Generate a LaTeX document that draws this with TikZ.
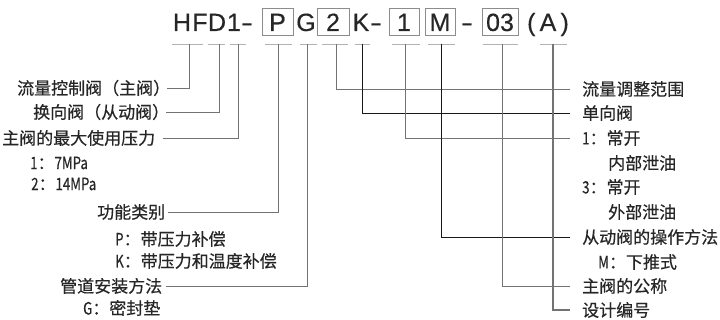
\documentclass[tikz,border=0pt]{standalone}
\usepackage{fontspec}
\setmainfont{Liberation Sans}[FakeBold=0.4]
\newfontfamily\cjk{Noto Sans CJK SC}[FakeBold=0.5]
\newcommand\lat[1]{\scalebox{0.78}[1]{#1}}
\begin{document}
\begin{tikzpicture}[x=1pt,y=-1pt,
  lbl/.style={inner sep=0pt, anchor=west, font=\cjk\fontsize{17}{17}\selectfont, text=black!85},
  ttl/.style={inner sep=0pt, anchor=base, font=\fontsize{25}{25}\selectfont, text=black!85},
  bx/.style={draw=black!45, line width=0.8pt, inner sep=0pt, minimum height=27pt,
     text height=18pt, text depth=0pt, anchor=center, font=\fontsize{25}{25}\selectfont, text=black!85},
  ul/.style={draw=black!30, line width=0.9pt},
  ln/.style={draw=black!55, line width=0.8pt},
  lnd/.style={draw=black!90, line width=0.8pt}]
\useasboundingbox (0,0) rectangle (720,320);
% title
\node[ttl] (tH) at (182,31) {H};
\node[ttl] (tF) at (200,31) {F};
\node[ttl] (tD) at (217,31) {D};
\node[ttl] (t1) at (234,31) {1};
\node[ttl] (td1) at (247,31) {\scalebox{1.4}[1]{-}};
\node[bx, minimum width=31pt] (tP) at (277.5,22) {P};
\node[ttl] (tG) at (306,31) {G};
\node[bx, minimum width=32pt] (t2) at (333,22) {2};
\node[ttl] (tK) at (361,31) {K};
\node[ttl] (td2) at (376,31) {\scalebox{1.4}[1]{-}};
\node[bx, minimum width=30pt] (tone) at (404,22) {1};
\node[bx, minimum width=30pt] (tM) at (440,22) {M};
\node[ttl] (td3) at (467,31) {\scalebox{1.4}[1]{-}};
\node[bx, minimum width=36pt] (t03) at (500,22) {03};
\node[ttl] (tA) at (548,31) {(\,A\,)};
% underlines
\foreach \a/\b in {172/203,208/225,230/246,265/292,300/317,322/348,355/370,392/420,428/455,483/518,540/567}
  \draw[ul] (\a,44) -- (\b,44);
\foreach \n/\x in {1/189,2/219,3/238,4/278,5/307,6/336,7/362,8/405,9/441,10/502,11/553}
  \coordinate (u\n) at (\x,44);
% left labels
\node[lbl] (L1) at (17,88) {流量控制阀（主阀）};
\node[lbl] (L2) at (33,112) {换向阀（从动阀）};
\node[lbl] (L3) at (2,138) {主阀的最大使用压力};
\node[lbl] (L3a) at (30,163) {\lat{1}：\lat{7MPa}};
\node[lbl] (L3b) at (31,184) {\lat{2}：\lat{14MPa}};
\node[lbl] (L4) at (97,212) {功能类别};
\node[lbl] (L4a) at (115,239) {\lat{P}：带压力补偿};
\node[lbl] (L4b) at (115,261) {\lat{K}：带压力和温度补偿};
\node[lbl] (L5) at (60,286) {管道安装方法};
\node[lbl] (L5a) at (83,308) {\lat{G}：密封垫};
% right labels
\node[lbl] (R1) at (582,89) {流量调整范围};
\node[lbl] (R2) at (582,113) {单向阀};
\node[lbl] (R3) at (582,138) {\lat{1}：常开};
\node[lbl] (R3a) at (608,163) {内部泄油};
\node[lbl] (R3b) at (582,187) {\lat{3}：常开};
\node[lbl] (R3c) at (608,212) {外部泄油};
\node[lbl] (R4) at (582,237) {从动阀的操作方法};
\node[lbl] (R4a) at (598,262) {\lat{M}：下推式};
\node[lbl] (R5) at (582,286) {主阀的公称};
\node[lbl] (R6) at (582,310) {设计编号};
% connectors
\draw[ln] ([xshift=-3pt]L1.east) -| (u1);
\draw[ln] ([xshift=-3pt]L2.east) -| (u2);
\draw[ln] ([xshift=8pt]L3.east) -| (u3);
\draw[ln] ([xshift=3pt]L4.east) -| (u4);
\draw[ln] ([xshift=4pt]L5.east) -| (u5);
\draw[ln] (u6) |- ([xshift=-12pt]R1.west);
\draw[lnd] (u7) |- ([xshift=-12pt]R2.west);
\draw[ln] (u8) |- ([xshift=-12pt]R3.west);
\draw[lnd] (u9) |- ([xshift=-12pt]R4.west);
\draw[ln] (u10) |- ([xshift=-12pt]R5.west);
\draw[ln, line width=1.3pt] (u11) |- ([xshift=-12pt]R6.west);
\end{tikzpicture}
\end{document}
